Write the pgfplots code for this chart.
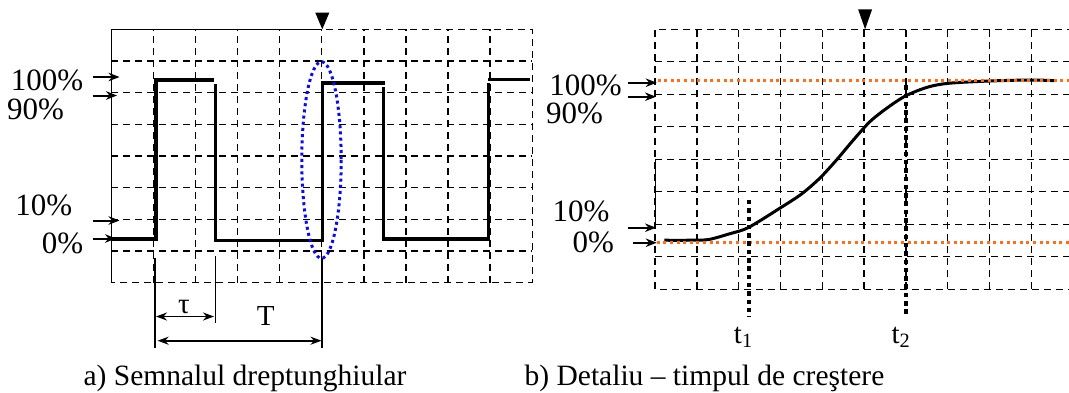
\documentclass[border=0pt]{standalone}
\usepackage{pgfplots}
\pgfplotsset{compat=1.18}
\usepackage{fontspec}
\setmainfont{Liberation Serif}
\usetikzlibrary{arrows.meta}
\definecolor{orng}{RGB}{255,110,20}
\definecolor{bluedot}{RGB}{10,10,240}
\begin{document}
\begin{tikzpicture}
\useasboundingbox (0pt,0pt) rectangle (1069pt,-392pt);
\pgfplotsset{
  oscgrid/.style={
    scale only axis, anchor=south west, clip=false,
    xmin=0, xmax=10, ymin=0, ymax=8,
    xtick={1,...,9}, ytick={1,...,7},
    xticklabels={}, yticklabels={},
    major tick length=0pt, tick style={draw=none},
    grid=major,
    major grid style={black, line width=1.3pt, dash pattern=on 7pt off 5pt},
    axis line style={black, line width=1.3pt, dash pattern=on 7pt off 5pt},
  }
}
% ---------- panel a ----------
\begin{axis}[oscgrid, at={(111.4pt,-282.5pt)}, width=420.8pt, height=253.2pt]
\draw[black, line width=1.3pt] (axis cs:5,8) -- (axis cs:0,8) -- (axis cs:0,0);
\addplot[black, line width=3.4pt, mark=none] coordinates {(0,1.38) (1.06,1.38) (1.06,6.40) (2.45,6.40)};
\addplot[black, line width=3.4pt, mark=none] coordinates {(2.48,6.28) (2.48,1.32) (5.01,1.32) (5.01,6.30) (6.49,6.30)};
\addplot[black, line width=3.4pt, mark=none] coordinates {(6.46,6.18) (6.46,1.38) (8.96,1.38) (8.96,6.30)};
\addplot[black, line width=3.4pt, mark=none] coordinates {(8.96,6.42) (9.94,6.42)};
\end{axis}
% ---------- panel b ----------
\begin{axis}[oscgrid, at={(655.1pt,-289.3pt)}, width=418pt, height=260pt]
\draw[black, line width=1pt] (axis cs:0,1.92) -- (axis cs:0,3.98);
\addplot[black, line width=3pt, smooth, mark=none] coordinates {
 (0.22,1.51) (0.8,1.51) (1.27,1.53) (1.76,1.70) (2.23,1.90) (2.99,2.50)
 (3.5,2.93) (3.94,3.42) (4.34,3.98) (4.74,4.59) (5.14,5.16) (5.54,5.57)
 (5.99,5.95) (6.52,6.22) (7.03,6.34) (8.02,6.41) (8.99,6.44) (9.55,6.42)};
\addplot[orng, line width=3pt, dash pattern=on 3pt off 3.6pt, mark=none] coordinates {(0.06,6.44) (10.2,6.44)};
\addplot[orng, line width=3pt, dash pattern=on 3pt off 3.6pt, mark=none] coordinates {(0.04,1.45) (10.2,1.45)};
\addplot[black, line width=4.6pt, dash pattern=on 4.5pt off 3.8pt, mark=none] coordinates {(2.25,2.75) (2.25,-0.84)};
\addplot[black, line width=4.6pt, dash pattern=on 4.5pt off 3.8pt, mark=none] coordinates {(6.0,6.28) (6.0,-0.84)};
\end{axis}
% ---------- annotations (pixel coordinates) ----------
\begin{scope}[x=1pt, y=-1pt, every node/.style={inner sep=0pt, outer sep=0pt}]
  \fontsize{31}{33}\selectfont
  % trigger markers
  \fill[black] (322.3,29.3) -- (315.3,12.7) -- (329.3,12.7) -- cycle;
  \fill[black] (865.1,29.3) -- (858.1,9.3) -- (872.1,9.3) -- cycle;
  % blue dotted ellipse
  \draw[bluedot, line width=3pt, dash pattern=on 3pt off 3.2pt] (321.5,160) ellipse [x radius=19.7, y radius=98.3];
  % left level labels
  \node[anchor=base east] at (83.3,90.7) {100\%};
  \node[anchor=base west] at (7,119) {90\%};
  \node[anchor=base west] at (15.4,215) {10\%};
  \node[anchor=base east] at (83.3,253) {0\%};
  % right level labels
  \node[anchor=base east] at (621.7,95) {100\%};
  \node[anchor=base west] at (546,123.3) {90\%};
  \node[anchor=base west] at (552.7,221.7) {10\%};
  \node[anchor=base east] at (614,252.5) {0\%};
  % arrows
  \begin{scope}[line width=2pt, -{Stealth[length=11pt,width=8.5pt]}]
    \draw (93,77) -- (119.5,77);
    \draw (92.7,95.5) -- (117,95.5);
    \draw (93,220.5) -- (119.5,220.5);
    \draw (92.7,238.5) -- (116,238.5);
    \draw (628.3,82.7) -- (656.7,82.7);
    \draw (628.3,96.7) -- (656,96.7);
    \draw (628.3,227.7) -- (656,227.7);
    \draw (633,242.7) -- (656.7,242.7);
  \end{scope}
  % extension lines and dimension arrows
  \draw[line width=1.3pt] (154.9,258.3) -- (154.9,348.3);
  \draw[line width=1.3pt] (215.2,256) -- (215.2,322.7);
  \draw[line width=1.3pt] (322.1,258.3) -- (322.1,348.3);
  \draw[line width=1.8pt, {Stealth[length=11pt,width=8pt]}-{Stealth[length=11pt,width=8pt]}] (156,316.5) -- (214,316.5);
  \draw[line width=1.8pt, {Stealth[length=11pt,width=8pt]}-{Stealth[length=11pt,width=8pt]}] (157.6,340.7) -- (321.5,340.7);
  \node[anchor=base, font=\fontsize{29}{30}\selectfont] at (184,313) {τ};
  \node[anchor=base, font=\fontsize{29}{30}\selectfont] at (265.8,325) {T};
  \node[anchor=base, font=\fontsize{29}{30}\selectfont] at (743.3,343) {t\textsubscript{1}};
  \node[anchor=base, font=\fontsize{29}{30}\selectfont] at (901,343) {t\textsubscript{2}};
  % captions
  \node[anchor=base, font=\fontsize{29.5}{31}\selectfont] at (245,385) {a) Semnalul dreptunghiular};
  \node[anchor=base, font=\fontsize{29.5}{31}\selectfont] at (704.5,385) {b) Detaliu – timpul de creştere};
\end{scope}
\end{tikzpicture}
\end{document}
